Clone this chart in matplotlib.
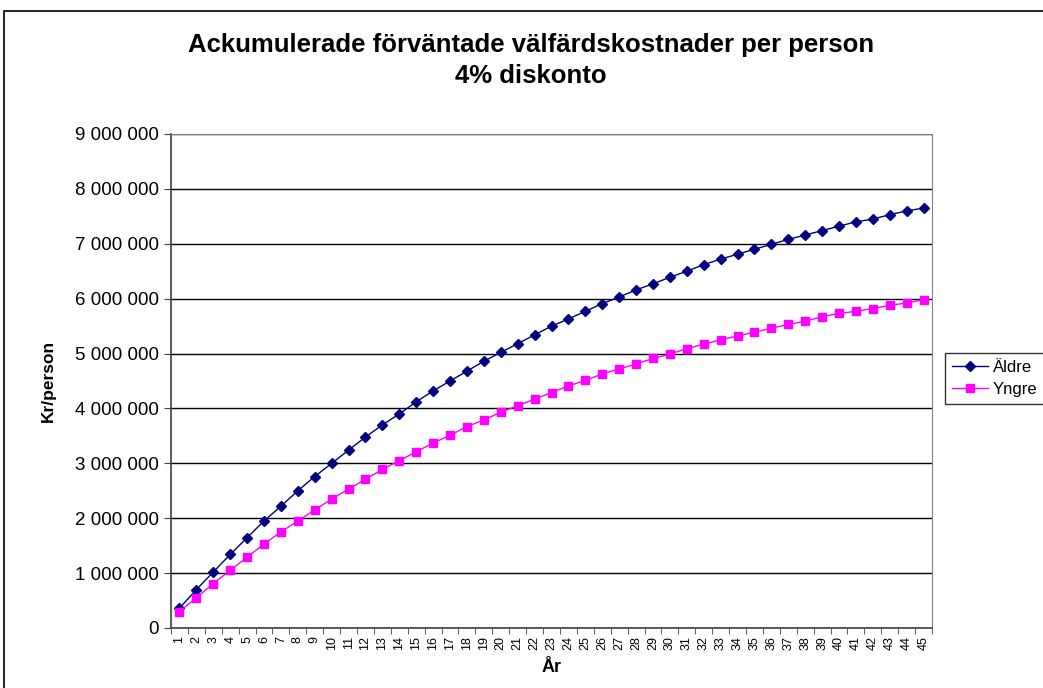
import numpy as np
import matplotlib
matplotlib.use('Agg')
import matplotlib.pyplot as plt
from matplotlib.patches import Rectangle
from matplotlib.ticker import FuncFormatter

plt.rcParams['font.family'] = ['Liberation Sans', 'DejaVu Sans']

# år 1..45
years = list(range(1, 46))

# kr/person
aldre = [0.36, 0.70, 1.02, 1.34, 1.645, 1.95, 2.22, 2.50, 2.76, 3.00,
         3.24, 3.48, 3.70, 3.90, 4.12, 4.32, 4.50, 4.68, 4.86, 5.02,
         5.18, 5.34, 5.50, 5.63, 5.77, 5.91, 6.03, 6.16, 6.27, 6.39,
         6.50, 6.62, 6.72, 6.81, 6.90, 6.99, 7.08, 7.16, 7.24, 7.32,
         7.40, 7.45, 7.53, 7.60, 7.65]
yngre = [0.30, 0.55, 0.81, 1.05, 1.29, 1.53, 1.75, 1.95, 2.15, 2.35,
         2.53, 2.71, 2.89, 3.05, 3.21, 3.37, 3.51, 3.67, 3.79, 3.93,
         4.05, 4.17, 4.29, 4.41, 4.51, 4.63, 4.72, 4.81, 4.91, 4.99,
         5.09, 5.17, 5.25, 5.32, 5.39, 5.46, 5.53, 5.59, 5.67, 5.73,
         5.77, 5.82, 5.88, 5.92, 5.98]
aldre = np.array(aldre) * 1e6
yngre = np.array(yngre) * 1e6

fig = plt.figure(figsize=(10.43, 6.88), dpi=100)
ax = fig.add_axes([171 / 1043, 1 - 628 / 688, 761 / 1043, 494 / 688])

# ram runt hela diagrammet
fig.patches.append(Rectangle((4 / 1043, -0.05), 1.1, 1 - 11 / 688 + 0.05,
                             transform=fig.transFigure, fill=False,
                             edgecolor='black', linewidth=1.2))

ax.plot(years, aldre, color='#000080', marker='D', markersize=5.5,
        linewidth=1, label='Äldre', zorder=3)
ax.plot(years, yngre, color='#FF00FF', marker='s', markersize=6,
        linewidth=1, label='Yngre', zorder=3)

ax.set_xlim(0.5, 45.5)
ax.set_ylim(0, 9e6)
ax.set_yticks(np.arange(0, 9.1e6, 1e6))
ax.yaxis.set_major_formatter(FuncFormatter(
    lambda v, p: '{:,.0f}'.format(v).replace(',', ' ')))
ax.grid(axis='y', color='black', linewidth=1)
ax.set_axisbelow(True)

ax.set_xticks(years)
ax.set_xticklabels([str(y) for y in years], rotation=90, fontsize=9)
ax.set_xticks(np.arange(0.5, 46, 1), minor=True)
ax.tick_params(axis='x', which='major', length=0, pad=6)
ax.tick_params(axis='x', which='minor', length=4, direction='out', color='#404040')
ax.tick_params(axis='y', length=5, direction='out', labelsize=13.5, color='#404040')

for s in ['left', 'bottom']:
    ax.spines[s].set_color('#404040')
    ax.spines[s].set_linewidth(1.2)
for s in ['right', 'top']:
    ax.spines[s].set_color('#808080')

ax.set_ylabel('Kr/person', fontsize=12.5, fontweight='bold', labelpad=14)
ax.set_xlabel('År', fontsize=13, fontweight='bold', labelpad=6)

fig.text(531 / 1043, 1 - 45 / 688, 'Ackumulerade förväntade välfärdskostnader per person',
         ha='center', va='center', fontsize=18.5, fontweight='bold')
fig.text(531 / 1043, 1 - 76 / 688, '4% diskonto',
         ha='center', va='center', fontsize=18.5, fontweight='bold')

leg = fig.legend(loc='upper left', bbox_to_anchor=(945 / 1043, 1 - 353 / 688),
                 fontsize=12, frameon=True, fancybox=False, edgecolor='black',
                 borderpad=0.4, handlelength=2.2, handletextpad=0.25,
                 labelspacing=0.45, borderaxespad=0)
leg.get_frame().set_linewidth(1)

fig.savefig('out.png', dpi=100)
